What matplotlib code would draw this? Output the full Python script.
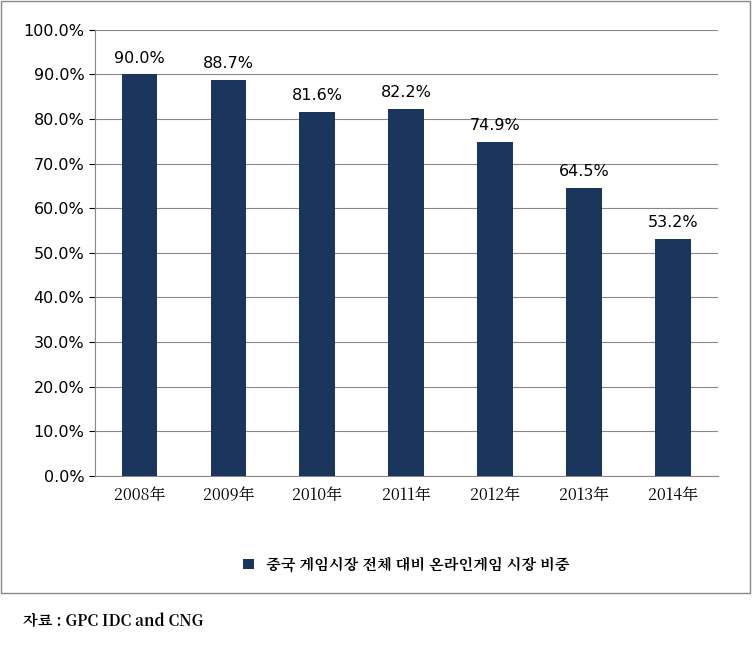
import matplotlib
matplotlib.use("Agg")
import matplotlib.pyplot as plt
import matplotlib.ticker as mticker
from matplotlib import font_manager
from matplotlib.patches import Rectangle

cjk = next((f.name for f in font_manager.fontManager.ttflist if "CJK" in f.name and "KR" in f.name),
           next((f.name for f in font_manager.fontManager.ttflist if "CJK" in f.name), "DejaVu Sans"))
plt.rcParams["font.family"] = ["DejaVu Sans", cjk]

years = ["2008年", "2009年", "2010年", "2011年", "2012年", "2013年", "2014年"]
shares = [90.0, 88.7, 81.6, 82.2, 74.9, 64.5, 53.2]
legend_label = "중국 게임시장 전체 대비 온라인게임 시장 비중"
source_text = "자료 : GPC IDC and CNG"

BAR = "#1B365D"

fig = plt.figure(figsize=(7.53, 6.49), dpi=100)
fig.patches.append(Rectangle((0.001, 0.087), 0.995, 0.911, transform=fig.transFigure,
                             fill=False, edgecolor="#888888", linewidth=1))

ax = fig.add_axes([0.126, 0.267, 0.827, 0.687])
x = range(len(years))
bars = ax.bar(x, shares, width=0.4, color=BAR, zorder=3)
for b, v in zip(bars, shares):
    ax.text(b.get_x() + b.get_width() / 2, v + 2, f"{v:.1f}%", ha="center", va="bottom",
            fontsize=11.5)

ax.set_ylim(0, 100)
ax.set_xlim(-0.5, len(years) - 0.5)
ax.set_yticks(range(0, 101, 10))
ax.yaxis.set_major_formatter(mticker.FuncFormatter(lambda v, _: f"{v:.1f}%"))
ax.set_xticks(list(x))
ax.set_xticklabels(years, fontsize=11.5, fontfamily=cjk)
ax.tick_params(axis="y", labelsize=11.5, length=4)
ax.tick_params(axis="x", length=0, pad=8)
ax.grid(axis="y", color="#888888", linewidth=0.8, zorder=0)
for s in ["top", "right"]:
    ax.spines[s].set_visible(False)
ax.spines["left"].set_color("#888888")
ax.spines["bottom"].set_color("#888888")

ax.legend([bars[0]], [legend_label], loc="center", bbox_to_anchor=(0.5, -0.2),
          frameon=False, handlelength=0.7, handleheight=0.7,
          prop={"family": cjk, "size": 11, "weight": "bold"})

fig.text(0.03, 0.043, source_text, fontsize=11, fontfamily=cjk,
         fontweight="bold", va="center")

fig.savefig("out.png", dpi=100)
